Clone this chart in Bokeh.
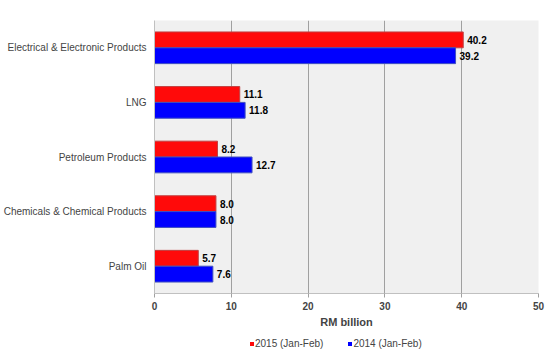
from bokeh.plotting import figure
from bokeh.layouts import column
from bokeh.models import ColumnDataSource, FactorRange, Legend, LegendItem, LabelSet
from bokeh.core.properties import value
from bokeh.transform import dodge
from bokeh.embed import file_html
from bokeh.resources import INLINE

categories = ["Electrical & Electronic Products", "LNG", "Petroleum Products",
              "Chemicals & Chemical Products", "Palm Oil"]
values_2015 = [40.2, 11.1, 8.2, 8.0, 5.7]
values_2014 = [39.2, 11.8, 12.7, 8.0, 7.6]
series_names = ["2015 (Jan-Feb)", "2014 (Jan-Feb)"]
series_colors = ["#ff0a0a", "#0000ff"]
x_ticks = [0, 10, 20, 30, 40, 50]

FONT = "Liberation Sans"

src = ColumnDataSource(dict(
    cat=categories,
    v15=values_2015,
    v14=values_2014,
    l15=[f"{v:.1f}" for v in values_2015],
    l14=[f"{v:.1f}" for v in values_2014],
))

p = figure(width=550, height=330, output_backend="svg", toolbar_location=None,
           y_range=FactorRange(*categories[::-1]), x_range=(0, 50),
           min_border_left=154, min_border_right=12, min_border_top=20, min_border_bottom=35)

p.background_fill_color = "#f0f0f0"
p.border_fill_color = "white"
p.outline_line_color = None

r15 = p.hbar(y=dodge("cat", 0.145, range=p.y_range), right="v15", left=0, height=0.29,
             source=src, fill_color=series_colors[0], line_color="#c04040", line_width=1)
r14 = p.hbar(y=dodge("cat", -0.145, range=p.y_range), right="v14", left=0, height=0.29,
             source=src, fill_color=series_colors[1], line_color="#4050c0", line_width=1)

lab15 = LabelSet(x="v15", y=dodge("cat", 0.145, range=p.y_range), text="l15", source=src,
                 x_offset=4, text_align="left", text_baseline="middle",
                 text_font=value(FONT), text_font_size="10px", text_font_style="bold",
                 text_color="black")
lab14 = LabelSet(x="v14", y=dodge("cat", -0.145, range=p.y_range), text="l14", source=src,
                 x_offset=4, text_align="left", text_baseline="middle",
                 text_font=value(FONT), text_font_size="10px", text_font_style="bold",
                 text_color="black")
p.add_layout(lab15)
p.add_layout(lab14)

p.xgrid.grid_line_color = "#a0a0a0"
p.xgrid.grid_line_width = 1
p.ygrid.grid_line_color = None
p.xaxis.ticker = x_ticks
p.xaxis.axis_label = "RM billion"
p.xaxis.axis_label_text_font = FONT
p.xaxis.axis_label_text_font_size = "11px"
p.xaxis.axis_label_text_font_style = "bold"
p.xaxis.axis_label_standoff = 3
p.xaxis.major_label_text_font = FONT
p.xaxis.major_label_text_font_size = "10px"
p.xaxis.major_label_text_font_style = "bold"
p.xaxis.major_label_standoff = 4
p.xaxis.axis_line_color = "#c0c0c0"
p.xaxis.major_tick_line_color = "#a0a0a0"
p.xaxis.major_tick_out = 4
p.xaxis.major_tick_in = 0
p.xaxis.minor_tick_line_color = None

p.yaxis.axis_line_color = "#c0c0c0"
p.yaxis.major_tick_line_color = None
p.yaxis.minor_tick_line_color = None
p.yaxis.major_tick_out = 0
p.yaxis.major_tick_in = 0
p.yaxis.major_label_text_font = FONT
p.yaxis.major_label_text_font_size = "10px"
p.yaxis.major_label_text_font_style = "normal"
p.yaxis.major_label_standoff = 8

# Legend strip below the chart (frame aligned with the main chart's frame)
lg = figure(width=550, height=20, output_backend="svg", toolbar_location=None,
            x_axis_type=None, y_axis_type=None, x_range=(0, 1),
            y_range=FactorRange(*series_names),
            min_border_left=154, min_border_right=12, min_border_top=0, min_border_bottom=0)
lg.outline_line_color = None
lg.xgrid.grid_line_color = None
lg.ygrid.grid_line_color = None
# zero-width proxies: they only supply the legend swatches
lr15 = lg.hbar(y=[series_names[0]], left=[0], right=[0], height=0.5,
               fill_color=series_colors[0], line_color=None)
lr14 = lg.hbar(y=[series_names[1]], left=[0], right=[0], height=0.5,
               fill_color=series_colors[1], line_color=None)
legend = Legend(items=[LegendItem(label=series_names[0], renderers=[lr15]),
                       LegendItem(label=series_names[1], renderers=[lr14])],
                orientation="horizontal", location=(95, 1),
                glyph_width=5, glyph_height=5, label_standoff=1, spacing=24,
                label_text_font=FONT, label_text_font_size="10px", label_height=10,
                padding=2, margin=0, border_line_color=None, background_fill_alpha=0)
lg.add_layout(legend, "center")

layout = column(p, lg, spacing=0)
open("out.html", "w").write(file_html(layout, INLINE))
